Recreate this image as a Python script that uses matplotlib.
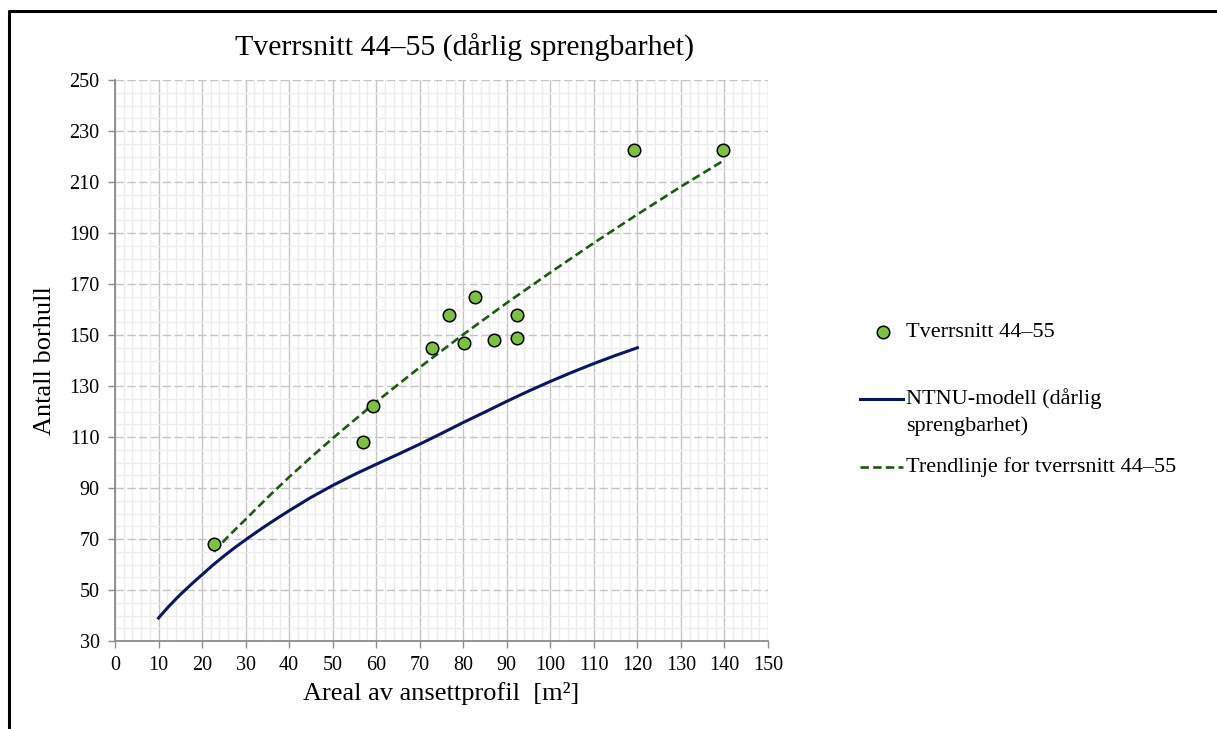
import matplotlib.pyplot as plt
from matplotlib.lines import Line2D
from matplotlib.ticker import MultipleLocator

plt.rcParams['font.family'] = ['Liberation Serif', 'DejaVu Serif']

# measured cross sections
areal = [22.7, 57.0, 59.3, 72.8, 76.7, 80.2, 82.7, 87.1, 92.3, 92.3, 119.3, 139.7]
borhull = [68, 108, 122, 145, 158, 147, 165, 148, 158, 149, 222.5, 222.5]

# NTNU model curve (poor blastability)
ntnu_x = [10, 11, 12, 13, 14, 15, 16, 17.5, 19, 20, 22.5, 25, 27.5, 30, 32.5,
          35, 37.5, 40, 45, 50, 55, 60, 65, 70, 75, 80, 85, 90, 95, 100, 105,
          110, 115, 120]
ntnu_y = [39, 41.0, 42.9, 44.7, 46.5, 48.2, 49.8, 52.2, 54.5, 56.0, 59.8, 63.3,
          66.6, 69.7, 72.7, 75.6, 78.4, 81.1, 86.3, 91.0, 95.3, 99.3, 103.2,
          107.2, 111.4, 115.7, 119.8, 124.0, 128.0, 131.8, 135.4, 138.8,
          142.0, 145.0]

# trendline through the measured points
trend_x = [22.7, 26, 30, 35, 40, 45, 50, 60, 70, 80, 90, 100, 110, 120, 130, 139.7]
trend_y = [65, 71.0, 77.7, 86.2, 94.3, 102.0, 109.5, 123.8, 137.3, 150.2, 162.6,
           174.5, 186.1, 197.3, 208.2, 218.3]

y_ticks = list(range(30, 251, 20))

W, H = 1217, 729
fig = plt.figure(figsize=(W / 100, H / 100), dpi=100)


def fx(px):
    return px / W


def fy(py):
    return 1 - py / H


ax = fig.add_axes([fx(115), fy(641), (768 - 115) / W, (641 - 80) / H])

navy = '#0c1660'
dgreen = '#1d5a12'
pgreen = '#7cc142'

ax.plot(ntnu_x, ntnu_y, color=navy, lw=2.2, zorder=3, solid_joinstyle='round')
ax.plot(trend_x, trend_y, color=dgreen, lw=1.9, dashes=(3.2, 1.6), zorder=3)
ax.plot(areal, borhull, 'o', ms=9, mfc=pgreen, mec='black', mew=1.1, zorder=4)

ax.set_xlim(0, 150)
ax.set_ylim(30, 250)
ax.xaxis.set_major_locator(MultipleLocator(10))
ax.xaxis.set_minor_locator(MultipleLocator(2))
ax.set_yticks(y_ticks)
ax.yaxis.set_minor_locator(MultipleLocator(5))

ax.grid(which='minor', color='#ececec', lw=1.0, zorder=0)
ax.grid(which='major', axis='x', color='#c4c4c4', lw=1.0, zorder=1)
ax.grid(which='major', axis='y', color='#c4c4c4', lw=1.0, ls=(0, (6, 2.5)), zorder=1)
ax.set_axisbelow(True)

for s in ['top', 'right']:
    ax.spines[s].set_visible(False)
for s in ['left', 'bottom']:
    ax.spines[s].set_color('#8c8c8c')
    ax.spines[s].set_linewidth(1.3)

ax.tick_params(which='major', length=5, width=1.0, color='#8c8c8c',
               labelsize=14.5, pad=6)
ax.tick_params(which='minor', length=0)

ax.set_xlabel('Areal av ansettprofil  [m²]', fontsize=19, labelpad=5)
ax.set_ylabel('Antall borhull', fontsize=19, labelpad=10)

fig.text(fx(465), fy(48), 'Tverrsnitt 44–55 (dårlig sprengbarhet)',
         fontsize=21.5, ha='center', va='center')

# legend
fs = 16
fig.add_artist(Line2D([fx(883)], [fy(332)], marker='o', ms=9, mfc=pgreen,
                      mec='black', mew=1.1))
fig.text(fx(906), fy(332), 'Tverrsnitt 44–55', fontsize=fs, va='center')
fig.add_artist(Line2D([fx(860), fx(903)], [fy(399), fy(399)], color=navy, lw=2.2))
fig.text(fx(906), fy(399), 'NTNU-modell (dårlig', fontsize=fs, va='center')
fig.text(fx(906), fy(426), 'sprengbarhet)', fontsize=fs, va='center')
fig.add_artist(Line2D([fx(860), fx(903)], [fy(467), fy(467)], color=dgreen,
                      lw=1.9, dashes=(3.2, 1.6)))
fig.text(fx(906), fy(467), 'Trendlinje for tverrsnitt 44–55', fontsize=fs,
         va='center')

# outer frame
fig.add_artist(Line2D([fx(9), fx(9), fx(1217)], [0, fy(11), fy(11)],
                      color='black', lw=2.2))

fig.savefig('out.png', dpi=100)
